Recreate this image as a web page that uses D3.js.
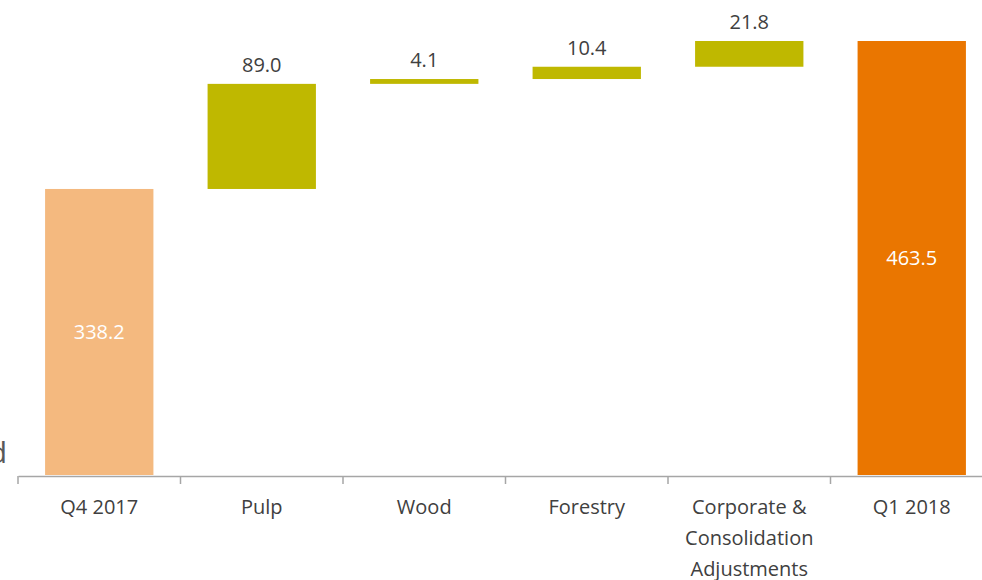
<!DOCTYPE html>
<html>
<head>
<meta charset="utf-8">
<script src="https://cdnjs.cloudflare.com/ajax/libs/d3/7.8.5/d3.min.js"></script>
<style>
  body { margin: 0; background: #fff; }
  text { font-family: "Open Sans", sans-serif; }
</style>
</head>
<body>
<div id="chart-area"></div>
<script>
// waterfall: Q4 2017 -> Q1 2018
var categories = ["Q4 2017", "Pulp", "Wood", "Forestry", "Corporate & Consolidation Adjustments", "Q1 2018"];
var tickLines = [["Q4 2017"], ["Pulp"], ["Wood"], ["Forestry"], ["Corporate &", "Consolidation", "Adjustments"], ["Q1 2018"]];
var values = [338.2, 89.0, 4.1, 10.4, 21.8, 463.5];
var kinds = ["start", "delta", "delta", "delta", "delta", "total"];
var yDomain = [96, 463.5];

var width = 982, height = 580;
var baseY = 475, plotTop = 41;

var colors = { start: "#f4b97f", delta: "#bfb800", total: "#ea7600" };

var svg = d3.select("#chart-area")
    .append("svg")
    .attr("width", width)
    .attr("height", height);

var x = d3.scaleBand()
    .domain(categories)
    .range([18, 993])
    .paddingInner(1 / 3)
    .paddingOuter(1 / 6);

var y = d3.scaleLinear()
    .domain(yDomain)
    .range([baseY, plotTop]);

// running totals for the floating bars
var bars = [];
var run = 0;
values.forEach(function(v, i) {
    var lo, hi;
    if (kinds[i] == "delta") {
        lo = run; hi = run + v; run = hi;
    } else {
        lo = yDomain[0]; hi = v; run = v;
    }
    bars.push({ cat: categories[i], value: v, lo: lo, hi: hi, kind: kinds[i] });
});

svg.selectAll(".bar")
    .data(bars)
    .enter().append("rect")
    .attr("class", "bar")
    .attr("x", function(d) { return x(d.cat); })
    .attr("width", x.bandwidth())
    .attr("y", function(d) { return y(d.hi); })
    .attr("height", function(d) { return y(d.lo) - y(d.hi); })
    .attr("fill", function(d) { return colors[d.kind]; });

// value labels
svg.selectAll(".lbl")
    .data(bars)
    .enter().append("text")
    .attr("class", "lbl")
    .attr("text-anchor", "middle")
    .attr("font-size", 20)
    .attr("x", function(d) { return x(d.cat) + x.bandwidth() / 2; })
    .attr("y", function(d) {
        if (d.kind == "delta") return y(d.hi) - 12;
        return (y(d.lo) + y(d.hi)) / 2 + 7;
    })
    .attr("fill", function(d) { return d.kind == "delta" ? "#404040" : "#ffffff"; })
    .text(function(d) { return d.value.toFixed(1); });

// x axis
var xAxis = svg.append("g")
    .attr("transform", "translate(0," + (baseY + 1) + ")")
    .call(d3.axisBottom(x).tickSize(0).tickFormat(""));
xAxis.select(".domain").attr("stroke", "#a6a6a6").attr("stroke-width", 1.5);

var step = x.step();
var edges = d3.range(categories.length).map(function(i) { return x(categories[i]) - step * x.paddingInner() / 2; });
xAxis.selectAll(".edge")
    .data(edges)
    .enter().append("line")
    .attr("class", "edge")
    .attr("x1", function(d) { return d; })
    .attr("x2", function(d) { return d; })
    .attr("y1", 0)
    .attr("y2", 8)
    .attr("stroke", "#a6a6a6")
    .attr("stroke-width", 1.5);

var labels = xAxis.selectAll(".cat")
    .data(categories)
    .enter().append("text")
    .attr("class", "cat")
    .attr("text-anchor", "middle")
    .attr("font-size", 20)
    .attr("fill", "#404040")
    .attr("x", function(d) { return x(d) + x.bandwidth() / 2; })
    .attr("y", 38);
labels.each(function(d, i) {
    var t = d3.select(this);
    tickLines[i].forEach(function(line, j) {
        t.append("tspan")
            .attr("x", x(d) + x.bandwidth() / 2)
            .attr("dy", j == 0 ? 0 : 31)
            .text(line);
    });
});

// clipped fragment of a label at the left edge
svg.append("text")
    .attr("x", 7)
    .attr("y", 463)
    .attr("text-anchor", "end")
    .attr("font-size", 30)
    .attr("fill", "#595959")
    .text("d");
</script>
</body>
</html>
